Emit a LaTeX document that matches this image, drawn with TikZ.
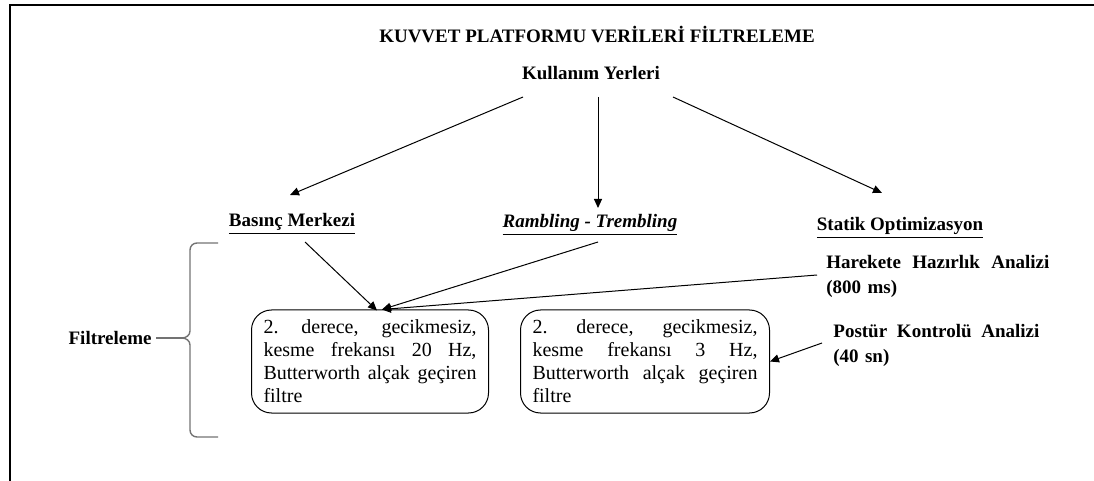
\documentclass[tikz,border=0pt]{standalone}
\usepackage{fontspec}
\setmainfont{Liberation Serif}
\usetikzlibrary{arrows.meta}
\frenchspacing
\newcommand{\gap}{\hspace{0pt plus 1fill}}
\begin{document}
\begin{tikzpicture}[x=0.5pt,y=-0.5pt,
	lbl/.style={font=\fontsize{9.5}{12.5}\selectfont\bfseries,inner sep=0pt},
	box/.style={draw,line width=0.5pt,rounded corners=10pt,align=justify,
		font=\fontsize{10}{11.5}\selectfont,inner xsep=6pt,minimum height=51.5pt},
	arr/.style={-{Triangle[length=4.5pt,width=4pt]},line width=0.5pt},
	brc/.style={draw=black!55,line width=0.7pt}]
	\useasboundingbox (0,0) rectangle (1094,481);
	% frame
	\draw[line width=1.1pt] (1094,5) -- (10,5) -- (10,481);
	% headings
	\node[lbl] (title) at (597,35) {KUVVET PLATFORMU VERİLERİ FİLTRELEME};
	\node[lbl] (kullanim) at (591,73) {Kullanım Yerleri};
	% usage areas
	\node[lbl] (basinc) at (292,224) {\underline{Basınç Merkezi}};
	\node[lbl] (rambling) at (590,225) {\underline{\textit{Rambling - Trembling}}};
	\node[lbl] (statik) at (900,228) {\underline{Statik Optimizasyon}};
	% analyses
	\node[lbl,anchor=west,text width=111.5pt,align=left] (harekete) at (826,276)
		{Harekete\gap Hazırlık\gap Analizi\\(800 ms)};
	\node[lbl,anchor=west,text width=103pt,align=left] (postur) at (833,345)
		{Postür\gap Kontrolü\gap Analizi\\(40 sn)};
	% filters
	\node[box,text width=106.5pt] (filtre1) at (370,361.5)
		{2. derece, gecikmesiz,\linebreak kesme frekansı 20 Hz,\linebreak Butterworth alçak geçiren\linebreak filtre};
	\node[box,text width=112.5pt] (filtre2) at (645,361.5)
		{2. derece, gecikmesiz,\linebreak kesme frekansı 3 Hz,\linebreak Butterworth alçak geçiren\linebreak filtre};
	\coordinate (hit1) at ([shift={(7,1)}]filtre1.north);
	\coordinate (hit2) at ([shift={(12,0)}]filtre1.north);
	% brace
	\node[lbl,anchor=east] (filtreleme) at (152,338) {Filtreleme};
	\coordinate (tip) at (182,338);
	\draw[brc] (218,243) -- (197,243) to[out=180,in=90] (190,250) -- (190,331)
		to[out=-90,in=0] (tip) to[out=0,in=90] (190,345) -- (190,430)
		to[out=-90,in=180] (197,437) -- (218,437);
	\draw[brc] ([xshift=2pt]filtreleme.east) -- (tip);
	% arrows
	\draw[arr] ([shift={(-68,24)}]kullanim.center) -- ([shift={(-2,-29)}]basinc.center);
	\draw[arr] ([shift={(7,24)}]kullanim.center) -- ([shift={(8,-17)}]rambling.center);
	\draw[arr] ([shift={(82,24)}]kullanim.center) -- ([shift={(-18,-35)}]statik.center);
	\draw[arr] ([shift={(13,18)}]basinc.center) -- (hit1);
	\draw[arr] ([shift={(8,17)}]rambling.center) -- (hit2);
	\draw[arr] ([shift={(-9,-1)}]harekete.west) -- (hit2);
	\draw[arr] ([shift={(-11,-2)}]postur.west) -- (filtre2.east);
\end{tikzpicture}
\end{document}
